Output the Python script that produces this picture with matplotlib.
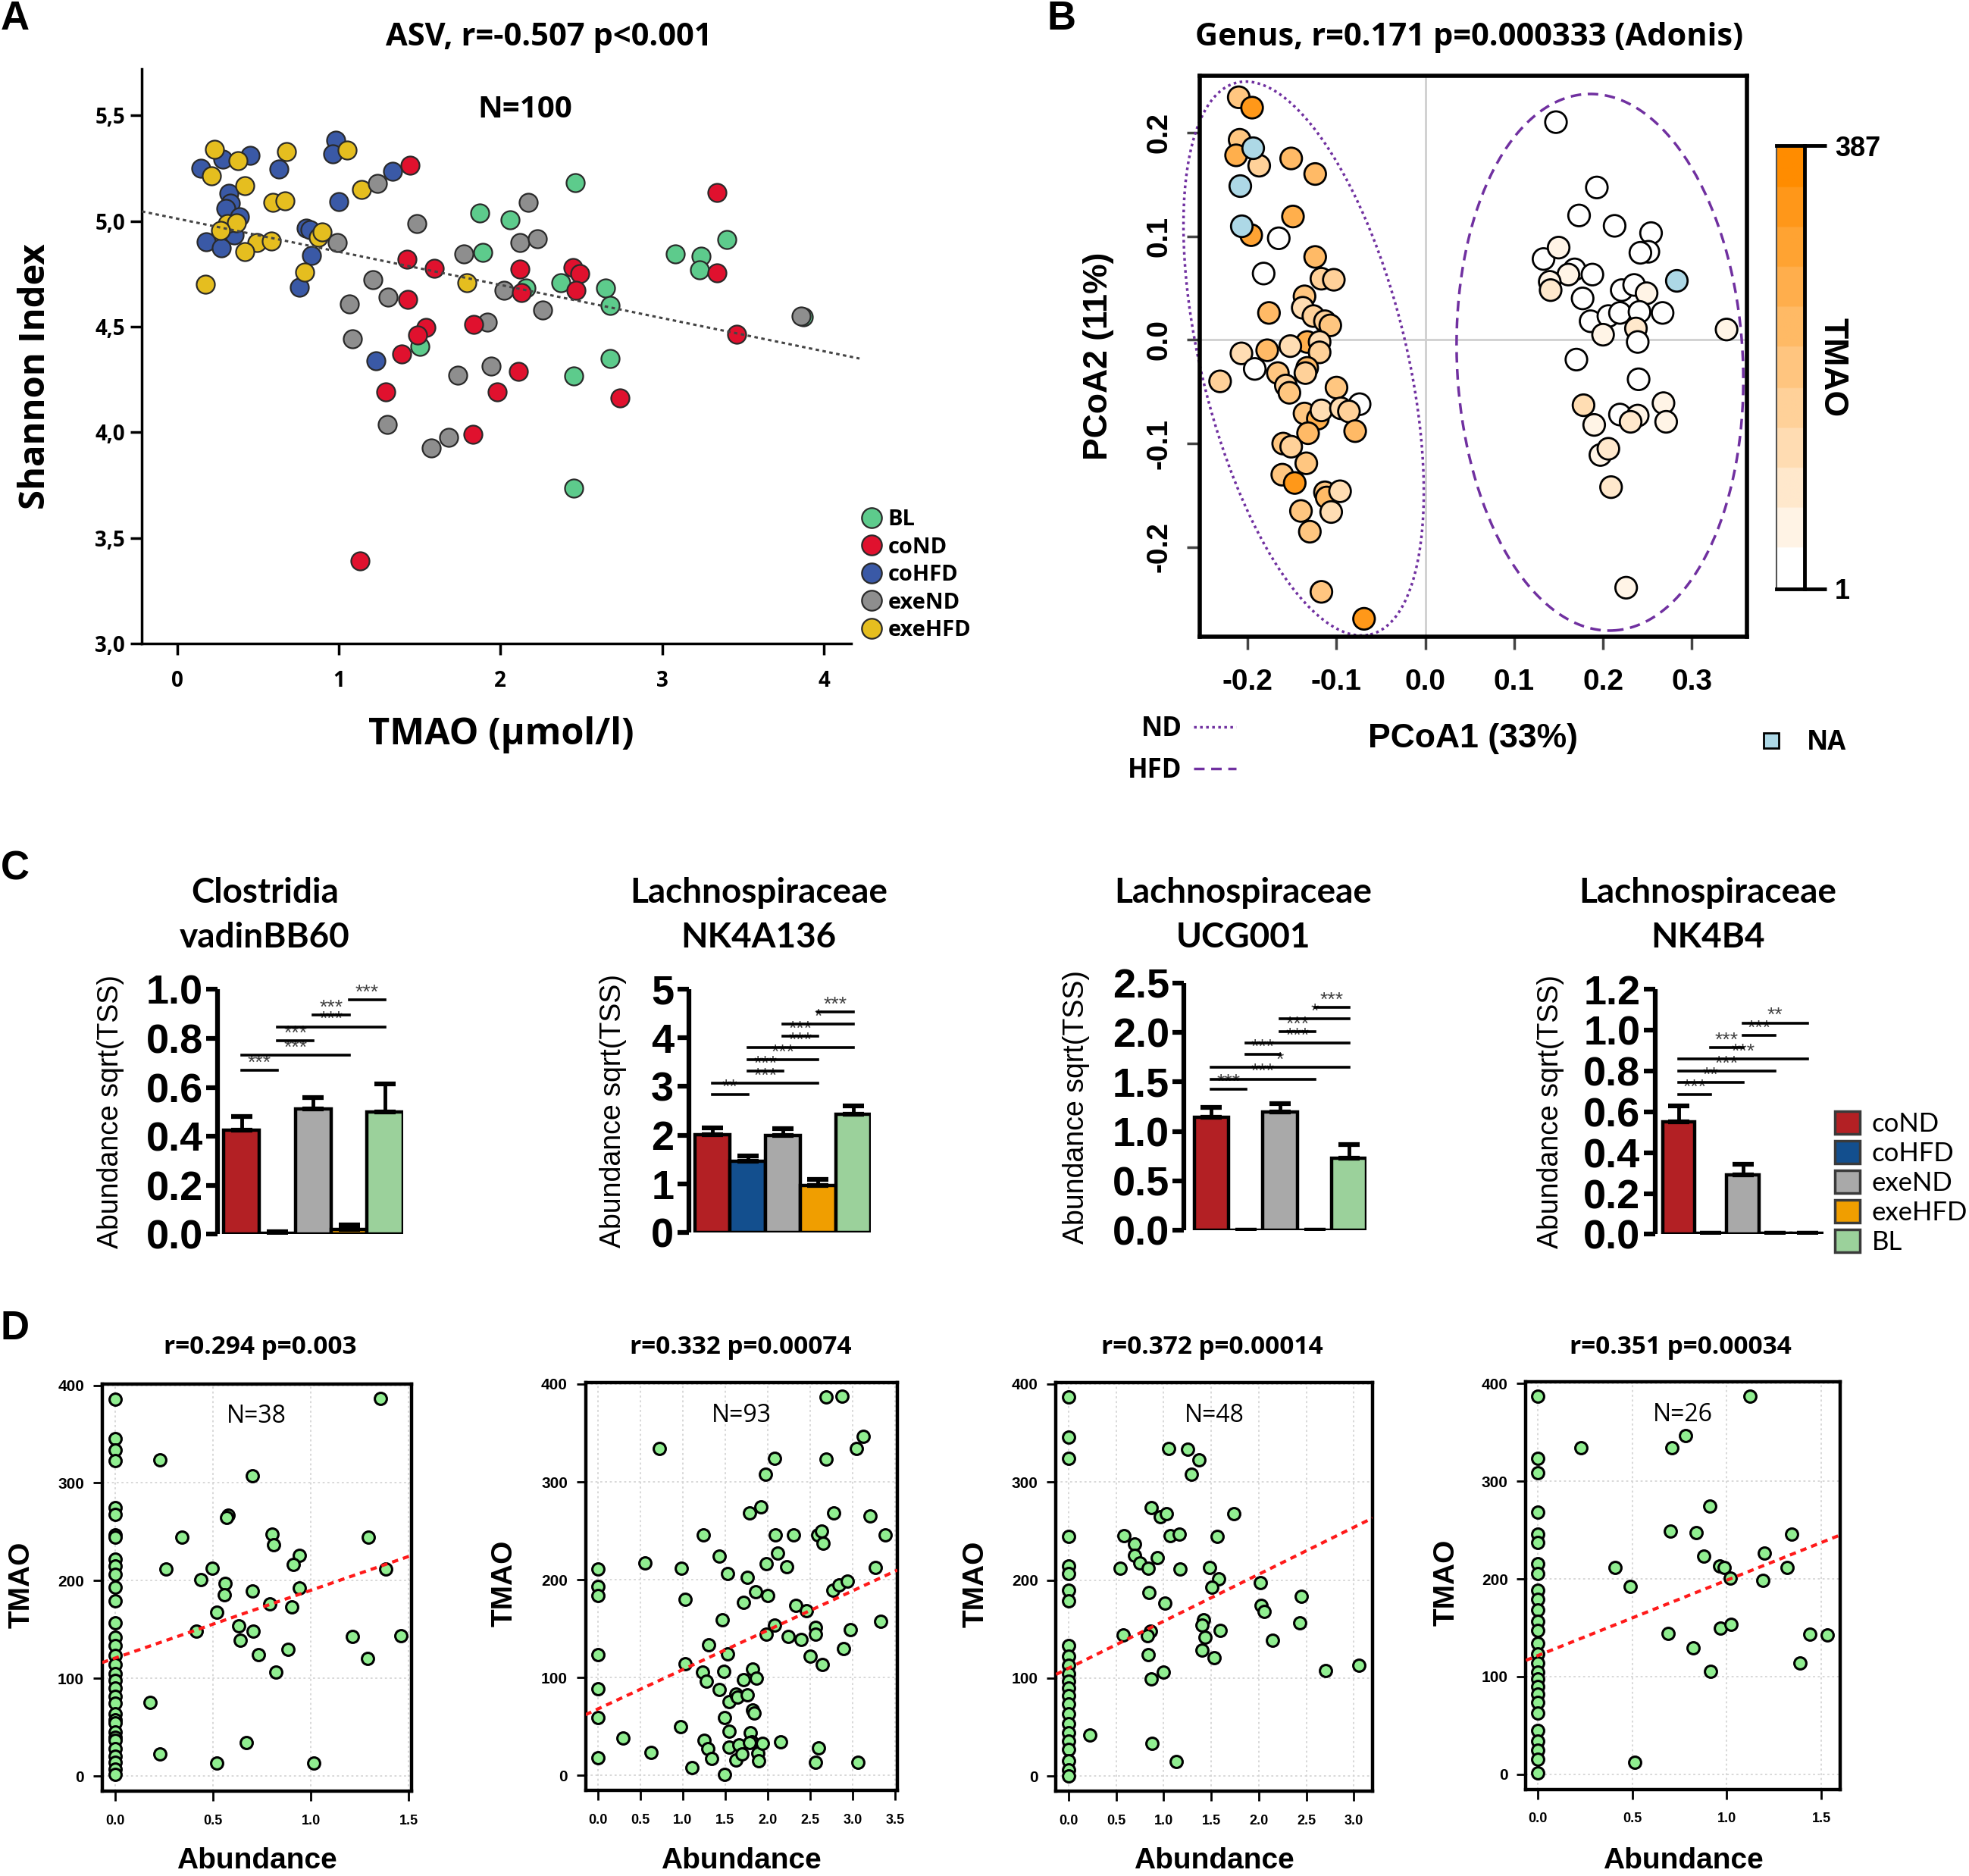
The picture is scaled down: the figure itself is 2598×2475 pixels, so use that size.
import numpy as np
import matplotlib
matplotlib.use("Agg")
import matplotlib.pyplot as plt
from matplotlib.colors import LinearSegmentedColormap
from matplotlib.lines import Line2D
from matplotlib.patches import Patch

plt.rcParams['axes.unicode_minus'] = False

# ---------------- Panel A: Shannon index vs TMAO ----------------
bl_tmao = [2.462, 1.872, 2.061, 1.893, 2.156, 2.373, 1.504, 2.453, 2.453, 3.079,
           3.240, 3.229, 3.401, 2.651, 2.680, 2.680, 3.873]
bl_shannon = [5.181, 5.037, 5.005, 4.853, 4.682, 4.707, 4.408, 4.268, 3.735, 4.844,
              4.835, 4.770, 4.912, 4.683, 4.600, 4.349, 4.547]
cond_tmao = [1.441, 1.423, 1.590, 1.427, 1.540, 1.490, 1.391, 1.293, 1.133, 1.831, 2.122,
             2.130, 2.450, 2.490, 2.469, 1.835, 2.110, 1.982, 3.340, 3.340, 2.739, 3.459]
cond_shannon = [5.265, 4.820, 4.775, 4.630, 4.498, 4.461, 4.370, 4.190, 3.390, 3.990, 4.772,
                4.663, 4.780, 4.751, 4.671, 4.510, 4.290, 4.190, 5.137, 4.756, 4.162, 4.463]
cohfd_tmao = [0.147, 0.283, 0.453, 0.630, 0.322, 0.331, 0.304, 0.385, 0.354, 0.179,
              0.272, 0.981, 0.961, 1.334, 0.999, 0.797, 0.824, 0.833, 0.755, 1.230]
cohfd_shannon = [5.249, 5.293, 5.311, 5.245, 5.133, 5.084, 5.059, 5.021, 4.935, 4.902,
                 4.873, 5.384, 5.318, 5.236, 5.092, 4.965, 4.960, 4.837, 4.688, 4.338]
exend_tmao = [1.239, 1.481, 0.990, 1.212, 1.303, 1.065, 1.083, 1.302, 1.572, 1.680,
              1.772, 2.170, 2.122, 2.230, 2.021, 2.262, 1.921, 1.734, 1.942, 3.860]
exend_shannon = [5.180, 4.988, 4.899, 4.724, 4.639, 4.609, 4.441, 4.037, 3.925, 3.976,
                 4.845, 5.087, 4.899, 4.917, 4.671, 4.578, 4.523, 4.269, 4.312, 4.551]
exehfd_tmao = [0.233, 0.379, 0.215, 0.421, 0.675, 0.591, 0.666, 1.051, 1.142, 0.313,
               0.367, 0.268, 0.492, 0.582, 0.421, 0.791, 0.872, 0.895, 0.175, 1.791]
exehfd_shannon = [5.339, 5.285, 5.213, 5.166, 5.328, 5.087, 5.097, 5.336, 5.150, 4.988,
                  4.993, 4.955, 4.899, 4.906, 4.856, 4.759, 4.922, 4.949, 4.700, 4.710]
asv_fit = (5.012, -0.157)  # intercept, slope of dotted trend line

group_colors = {'BL': '#5DCB8C', 'coND': '#E0112E', 'coHFD': '#3A59A6',
                'exeND': '#8E8E8E', 'exeHFD': '#E5BE1F'}

# ---------------- Panel B: PCoA ----------------
pcoa1 = [-0.210, -0.195, -0.209, -0.194, -0.213, -0.187, -0.151, -0.124, -0.209, -0.149,
         -0.207, -0.196, -0.165, -0.124, -0.182, -0.117, -0.103, -0.136, -0.138, -0.176,
         -0.126, -0.113, -0.107, -0.133, -0.119, -0.119, -0.207, -0.178, -0.152, -0.192,
         -0.133, -0.135, -0.166, -0.231, -0.157, -0.153, -0.100, -0.074, -0.136, -0.121,
         -0.117, -0.095, -0.086, -0.132, -0.079, -0.160, -0.151, -0.134, -0.161, -0.147,
         -0.113, -0.111, -0.096, -0.106, -0.140, -0.130, -0.117, -0.069,
         0.147, 0.193, 0.173, 0.213, 0.254, 0.251, 0.242, 0.133, 0.150, 0.168,
         0.161, 0.188, 0.140, 0.141, 0.283, 0.177, 0.221, 0.235, 0.249, 0.186,
         0.206, 0.219, 0.241, 0.267, 0.200, 0.237, 0.239, 0.339, 0.170, 0.240,
         0.178, 0.190, 0.219, 0.239, 0.231, 0.268, 0.271, 0.197, 0.206, 0.209, 0.226]
pcoa2 = [0.234, 0.224, 0.193, 0.185, 0.178, 0.168, 0.175, 0.160, 0.149, 0.119,
         0.110, 0.101, 0.098, 0.080, 0.064, 0.059, 0.058, 0.042, 0.031, 0.026,
         0.023, 0.018, 0.014, -0.002, -0.002, -0.012, -0.013, -0.010, -0.006, -0.028,
         -0.027, -0.032, -0.032, -0.040, -0.044, -0.051, -0.046, -0.062, -0.071, -0.076,
         -0.068, -0.066, -0.069, -0.090, -0.088, -0.100, -0.103, -0.119, -0.130, -0.138,
         -0.147, -0.152, -0.146, -0.166, -0.165, -0.185, -0.243, -0.269,
         0.210, 0.147, 0.120, 0.110, 0.103, 0.085, 0.084, 0.078, 0.089, 0.068,
         0.063, 0.063, 0.056, 0.048, 0.057, 0.040, 0.048, 0.053, 0.045, 0.018,
         0.023, 0.026, 0.027, 0.026, 0.005, 0.011, -0.002, 0.010, -0.019, -0.038,
         -0.063, -0.082, -0.072, -0.073, -0.079, -0.061, -0.079, -0.111, -0.105, -0.142, -0.239]
pcoa_tmao = [200, 330, 190, np.nan, 260, 160, 240, 220, np.nan, 280,
             np.nan, 300, 15, 230, 5, 170, 160, 210, 130, 230,
             170, 160, 180, 270, 140, 150, 120, 240, 130, 10,
             230, 150, 180, 170, 170, 180, 200, 20, 190, 250,
             130, 120, 170, 220, 230, 180, 150, 190, 200, 330,
             210, 220, 110, 120, 210, 200, 210, 320,
             10, 20, 15, 20, 15, 25, 20, 5, 70, 30,
             60, 25, 40, 90, np.nan, 15, 30, 25, 40, 20,
             35, 15, 30, 20, 60, 80, 25, 50, 8, 5,
             110, 45, 30, 40, 80, 45, 70, 60, 85, 80, 60]
# ellipses: centre, semi-axis vectors (PCoA units)
nd_ellipse = ((-0.137, -0.018), (0.0752, -0.2661), (0.1124, 0.0233))
hfd_ellipse = ((0.1965, -0.0216), (0.0148, -0.2587), (0.1607, 0.0067))

# ---------------- Panel C: bar charts ----------------
c_groups = ['coND', 'coHFD', 'exeND', 'exeHFD', 'BL']
c_colors = ['#B32024', '#134F8E', '#A9A9A9', '#F09E00', '#9BD19B']
c_titles = ['Clostridia\nvadinBB60', 'Lachnospiraceae\nNK4A136',
            'Lachnospiraceae\nUCG001', 'Lachnospiraceae\nNK4B4']
vadin_mean = [0.424, 0.005, 0.513, 0.02, 0.499]
vadin_sem = [0.058, 0.006, 0.047, 0.02, 0.116]
nk4a136_mean = [2.02, 1.47, 2.00, 0.97, 2.43]
nk4a136_sem = [0.13, 0.11, 0.14, 0.13, 0.17]
ucg001_mean = [1.143, 0.004, 1.194, 0.006, 0.729]
ucg001_sem = [0.103, 0.0, 0.091, 0.0, 0.137]
nk4b4_mean = [0.553, 0.004, 0.293, 0.004, 0.004]
nk4b4_sem = [0.075, 0.0, 0.052, 0.0, 0.0]
vadin_sig = [(0, 1, 0.670, '***'), (0, 3, 0.733, '***'), (1, 2, 0.791, '***'),
             (1, 4, 0.848, '***'), (2, 3, 0.895, '***'), (3, 4, 0.958, '***')]
nk4a136_sig = [(0, 1, 2.84, '**'), (0, 3, 3.07, '***'), (1, 2, 3.32, '***'),
               (1, 3, 3.55, '***'), (1, 4, 3.80, '***'), (2, 3, 4.03, '***'),
               (2, 4, 4.28, '*'), (3, 4, 4.53, '***')]
ucg001_sig = [(0, 1, 1.427, '***'), (0, 3, 1.530, '***'), (0, 4, 1.652, '*'),
              (1, 2, 1.776, '***'), (1, 4, 1.892, '***'), (2, 3, 2.009, '***'),
              (2, 4, 2.138, '*'), (3, 4, 2.254, '***')]
nk4b4_sig = [(0, 1, 0.685, '***'), (0, 2, 0.745, '**'), (0, 3, 0.800, '***'),
             (0, 4, 0.861, '***'), (1, 2, 0.917, '***'), (2, 3, 0.976, '***'),
             (2, 4, 1.036, '**')]
c_yticks = [[0.0, 0.2, 0.4, 0.6, 0.8, 1.0], [0, 1, 2, 3, 4, 5],
            [0.0, 0.5, 1.0, 1.5, 2.0, 2.5], [0.0, 0.2, 0.4, 0.6, 0.8, 1.0, 1.2]]
c_ylabels_fmt = ['{:.1f}', '{:.0f}', '{:.1f}', '{:.1f}']

# ---------------- Panel D: TMAO vs abundance ----------------
d1_abund = [0]*34 + [0.229, 0.703, 1.355, 0.578, 0.570, 0.340, 0.803, 0.810, 1.292, 0.261,
                     0.498, 0.439, 0.562, 0.558, 0.942, 0.910, 1.384, 0.942, 0.700, 0.791,
                     0.902, 0.521, 0.632, 0.415, 0.705, 0.641, 0.731, 0.882, 1.213, 1.458,
                     1.289, 0.823, 0.179, 0.229, 0.521, 0.671, 1.016]
d1_tmao = [385.5, 345.6, 333.6, 322.8, 274.5, 267.6, 246.6, 244.8, 222.3, 215.0,
           206.7, 193.3, 179.5, 156.7, 142.5, 133.5, 123.3, 114.2, 105.2, 97.9,
           89.9, 81.6, 74.3, 63.5, 58.0, 54.4, 45.3, 40.0, 36.3, 27.9, 20.0, 14.5, 7.0, 1.8,
           323.5, 307.5, 386.2, 267.3, 264.7, 244.8, 247.3, 236.4, 244.8, 212.2,
           212.9, 201.3, 197.6, 185.7, 225.9, 216.9, 212.2, 192.2, 189.3, 176.6,
           173.0, 167.5, 154.1, 148.0, 148.7, 138.9, 124.0, 129.5, 143.2, 144.0,
           120.8, 106.3, 75.1, 22.8, 13.4, 34.5, 13.4]
d2_abund = [0]*7 + [0.292, 0.554, 0.627, 0.722, 0.984, 1.032, 1.032, 0.977, 1.112, 1.240,
                    1.232, 1.276, 1.305, 1.250, 1.294, 1.342, 1.429, 1.429, 1.466, 1.531,
                    1.524, 1.484, 1.542, 1.495, 1.549, 1.549, 1.495, 1.630, 1.641, 1.659,
                    1.630, 1.695, 1.713, 1.761, 1.713, 1.761, 1.787, 1.823, 1.866, 1.859,
                    1.823, 1.841, 1.794, 1.816, 1.787, 1.888, 1.896, 1.939, 1.925, 1.976,
                    1.980, 1.980, 2.005, 2.078, 2.089, 2.115, 2.085, 2.151, 2.224, 2.242,
                    2.304, 2.333, 2.395, 2.461, 2.505, 2.563, 2.563, 2.588, 2.636, 2.654,
                    2.643, 2.599, 2.563, 2.690, 2.880, 2.690, 2.782, 2.771, 2.844, 2.935,
                    2.898, 2.971, 3.062, 3.044, 3.124, 3.208, 3.274, 3.336, 3.383]
d2_tmao = [211.2, 193.5, 184.0, 123.4, 88.9, 59.2, 18.1,
           38.1, 217.1, 23.6, 333.9, 211.6, 179.7, 114.3, 49.7, 8.3, 246.1,
           105.3, 96.2, 133.2, 36.3, 27.2, 17.4, 224.0, 87.8, 159.0, 206.2,
           124.5, 106.4, 75.5, 58.8, 45.4, 29.0, 1.1, 83.5, 79.9, 31.6,
           15.6, 21.8, 177.1, 202.5, 98.0, 82.4, 268.6, 108.9, 99.1, 187.7,
           67.2, 63.5, 43.6, 34.5, 33.4, 22.9, 15.2, 32.7, 274.8, 307.8,
           216.0, 144.1, 184.0, 323.8, 245.7, 226.9, 153.5, 34.5, 213.4, 142.3,
           245.7, 173.5, 138.7, 168.1, 121.6, 151.4, 144.1, 246.1, 249.7, 237.0,
           113.6, 27.9, 13.4, 386.6, 387.7, 323.0, 268.6, 189.5, 194.9, 198.5,
           129.6, 148.8, 13.4, 333.9, 346.6, 265.0, 212.3, 157.2, 245.7]
d3_abund = [0]*24 + [0.227, 0.546, 0.585, 0.578, 0.692, 0.692, 0.751, 0.838, 0.871, 0.848,
                     0.861, 0.829, 0.838, 0.871, 0.881, 0.936, 0.968, 1.027, 1.050, 1.066,
                     1.011, 1.001, 1.173, 1.163, 1.131, 1.254, 1.293, 1.375, 1.563, 1.482,
                     1.579, 1.505, 1.417, 1.407, 1.433, 1.407, 1.531, 1.596, 1.739, 2.015,
                     2.025, 2.057, 2.145, 2.447, 2.431, 2.698, 3.055]
d3_tmao = [386.6, 345.7, 324.0, 244.7, 214.7, 206.4, 189.3, 178.5, 133.2, 122.4,
           113.3, 104.3, 97.0, 89.8, 81.8, 73.5, 63.7, 53.6, 44.5, 35.5, 27.5, 15.6, 6.5, 0.4,
           42.0, 212.1, 245.4, 144.1, 236.4, 225.5, 217.2, 211.8, 273.7, 187.5,
           147.7, 143.0, 124.2, 98.8, 33.7, 222.6, 264.3, 267.9, 334.1, 245.4,
           176.7, 106.1, 211.0, 247.2, 14.8, 333.4, 307.7, 322.5, 244.7, 212.9,
           201.3, 192.9, 159.3, 154.2, 141.5, 128.5, 120.5, 148.8, 267.9, 197.6,
           173.8, 167.6, 138.6, 183.2, 156.7, 107.9, 113.3]
d4_abund = [0]*27 + [0.229, 0.407, 0.491, 0.513, 0.702, 0.709, 0.782, 0.688, 0.821, 0.839,
                     0.880, 0.911, 0.916, 0.961, 0.986, 1.018, 0.968, 1.021, 1.121, 1.200,
                     1.191, 1.321, 1.343, 1.389, 1.441, 1.530]
d4_tmao = [386.5, 323.6, 308.4, 268.4, 245.5, 237.5, 215.6, 205.5, 188.4, 179.3,
           168.4, 156.7, 147.3, 133.8, 122.9, 113.8, 104.7, 97.5, 90.2, 81.8,
           73.8, 62.9, 44.7, 33.8, 24.7, 15.6, 1.8,
           333.8, 212.0, 192.0, 12.7, 249.1, 333.8, 346.5, 144.0, 129.1, 247.3,
           223.6, 274.5, 105.8, 213.1, 212.0, 201.1, 149.5, 153.8, 386.5, 226.5,
           198.2, 211.3, 245.5, 113.8, 143.6, 142.9]
d_titles = ['r=0.294 p=0.003', 'r=0.332 p=0.00074', 'r=0.372 p=0.00014', 'r=0.351 p=0.00034']
d_n = ['N=38', 'N=93', 'N=48', 'N=26']
d_fits = [(120.8, 69.4), (68.0, 40.2), (110.0, 47.96), (121.5, 77.1)]
d_xlims = [(-0.066, 1.513), (-0.146, 3.529), (-0.130, 3.195), (-0.0625, 1.598)]
d_xticks = [[0.0, 0.5, 1.0, 1.5], [0.0, 0.5, 1.0, 1.5, 2.0, 2.5, 3.0, 3.5],
            [0.0, 0.5, 1.0, 1.5, 2.0, 2.5, 3.0], [0.0, 0.5, 1.0, 1.5]]

# ---------------- layout helpers (reference grid 1568 x 1494) ----------------
W, H = 1568.0, 1494.0
SEG = ['Open Sans', 'DejaVu Sans']
ARI = ['Liberation Sans', 'DejaVu Sans']
CAL = ['Lato', 'DejaVu Sans']


def add_ax(fig, x0, y0, x1, y1):
    return fig.add_axes([x0 / W, 1 - y1 / H, (x1 - x0) / W, (y1 - y0) / H])


def ftext(fig, x, y, s, **kw):
    return fig.text(x / W, 1 - y / H, s, **kw)


def tick_font(ax, family, size, weight='bold'):
    for lab in ax.get_xticklabels() + ax.get_yticklabels():
        lab.set_fontfamily(family)
        lab.set_fontsize(size)
        lab.set_fontweight(weight)


fig = plt.figure(figsize=(25.98, 24.75), dpi=100)

# panel letters
for letter, (x, y) in zip('ABCD', [(12, 15), (845, 15), (12, 692), (12, 1058)]):
    ftext(fig, x, y, letter, family=ARI, weight='bold', size=38, ha='center', va='center')

# ================= A =================
axA = add_ax(fig, 113, 55, 678, 512.5)
edge = '#2A2A2A'
axA.scatter(bl_tmao, bl_shannon, s=300, color=group_colors['BL'], edgecolors=edge, linewidths=1.6, zorder=3)
axA.scatter(cohfd_tmao, cohfd_shannon, s=300, color=group_colors['coHFD'], edgecolors=edge, linewidths=1.6, zorder=3)
axA.scatter(exehfd_tmao, exehfd_shannon, s=300, color=group_colors['exeHFD'], edgecolors=edge, linewidths=1.6, zorder=3)
axA.scatter(exend_tmao, exend_shannon, s=300, color=group_colors['exeND'], edgecolors=edge, linewidths=1.6, zorder=3)
axA.scatter(cond_tmao, cond_shannon, s=300, color=group_colors['coND'], edgecolors=edge, linewidths=1.6, zorder=3)
xs = np.array([-0.217, 4.22])
axA.plot(xs, asv_fit[0] + asv_fit[1] * xs, ls=(0, (1.5, 1.5)), color='#444444', lw=2.2, zorder=4, clip_on=False)
axA.set_xlim(-0.217, 4.17)
axA.set_ylim(3.0, 5.72)
axA.set_xticks([0, 1, 2, 3, 4])
axA.set_yticks([3.0, 3.5, 4.0, 4.5, 5.0, 5.5], labels=['3,0', '3,5', '4,0', '4,5', '5,0', '5,5'])
for s in ['top', 'right']:
    axA.spines[s].set_visible(False)
for s in ['left', 'bottom']:
    axA.spines[s].set_linewidth(2.5)
axA.tick_params(axis='both', direction='out', length=11, width=2.5)
axA.tick_params(axis='x', pad=14)
axA.tick_params(axis='y', pad=5)
tick_font(axA, SEG, 20)
axA.set_ylabel('Shannon Index', family=SEG, weight='bold', size=34, va='center')
axA.yaxis.set_label_coords((28 - 113) / 565, 0.465)
axA.set_xlabel('TMAO (µmol/l)', family=SEG, weight='bold', size=35, va='center')
axA.xaxis.set_label_coords(0.506, (512.5 - 585) / 457.5)
axA.text(2.15, 5.53, 'N=100', family=SEG, weight='bold', size=29, ha='center', va='center')
ftext(fig, 437, 30, 'ASV, r=-0.507 p<0.001', family=SEG, weight='bold', size=30, ha='center', va='center')
handles = [Line2D([], [], ls='none', marker='o', ms=19, mfc=group_colors[g], mec=edge, mew=1.6)
           for g in ['BL', 'coND', 'coHFD', 'exeND', 'exeHFD']]
axA.legend(handles, ['BL', 'coND', 'coHFD', 'exeND', 'exeHFD'], loc='upper left',
           bbox_to_anchor=(685 / W, 1 - 405 / H), bbox_transform=fig.transFigure,
           frameon=False, handlelength=1.0, handletextpad=0.25, labelspacing=0.26,
           borderpad=0, borderaxespad=0, prop=dict(family=SEG, weight='bold', size=21))

# ================= B =================
cmap = LinearSegmentedColormap.from_list('tmao', ['#FFFFFF', '#FF8C00'], N=11)
axB = add_ax(fig, 955.7, 60.2, 1391, 507)
axB.axhline(0, color='#CFCFCF', lw=2, zorder=0)
axB.axvline(0, color='#CFCFCF', lw=2, zorder=0)
px = np.array(pcoa1)
py = np.array(pcoa2)
pt = np.array(pcoa_tmao, dtype=float)
na = np.isnan(pt)
axB.scatter(px[~na], py[~na], c=pt[~na], cmap=cmap, vmin=1, vmax=387, s=420,
            edgecolors='black', linewidths=2, zorder=3)
axB.scatter(px[na], py[na], color='#ADD8E6', s=420, edgecolors='black', linewidths=2, zorder=3)
t = np.linspace(0, 2 * np.pi, 300)
for (c, u, v), ls in [(nd_ellipse, (0, (1, 1.3))), (hfd_ellipse, (0, (4, 2.5)))]:
    axB.plot(c[0] + u[0] * np.cos(t) + v[0] * np.sin(t), c[1] + u[1] * np.cos(t) + v[1] * np.sin(t),
             color='#7030A0', lw=2.5, ls=ls, zorder=2, clip_on=False)
axB.set_xlim(-0.2535, 0.3617)
axB.set_ylim(-0.2862, 0.2549)
bx = [-0.2, -0.1, 0.0, 0.1, 0.2, 0.3]
by = [-0.2, -0.1, 0.0, 0.1, 0.2]
axB.set_xticks(bx, labels=['{:.1f}'.format(v) for v in bx])
axB.set_yticks(by, labels=['{:.1f}'.format(v) for v in by])
for s in axB.spines.values():
    s.set_linewidth(4)
axB.tick_params(axis='both', direction='out', length=12, width=2.5, color='#444444')
axB.tick_params(axis='x', pad=18)
axB.tick_params(axis='y', pad=14, labelrotation=90)
tick_font(axB, ARI, 28)
for lab in axB.get_yticklabels():
    lab.set_va('center')
axB.set_ylabel('PCoA2 (11%)', family=ARI, weight='bold', size=32, va='center')
axB.yaxis.set_label_coords((875 - 955.7) / 435.3, 0.5)
axB.set_xlabel('PCoA1 (33%)', family=ARI, weight='bold', size=32, va='center')
axB.xaxis.set_label_coords(0.499, (507 - 588) / 446.8)
ftext(fig, 1170, 30, 'Genus, r=0.171 p=0.000333 (Adonis)', family=SEG, weight='bold', size=30,
      ha='center', va='center')
fig.legend([Line2D([], [], color='#7030A0', lw=2.5, ls=(0, (1, 1.3))),
            Line2D([], [], color='#7030A0', lw=2.5, ls=(0, (4, 2.5)))], ['ND', 'HFD'],
           markerfirst=False, loc='upper left', bbox_to_anchor=(898 / W, 1 - 570 / H),
           frameon=False, handlelength=1.6, handletextpad=0.45, labelspacing=0.55,
           borderpad=0, borderaxespad=0, prop=dict(family=SEG, weight='bold', size=25))
fig.legend([Line2D([], [], ls='none', marker='s', ms=15, mfc='#ADD8E6', mec='black', mew=2)], ['NA'],
           loc='upper left', bbox_to_anchor=(1400 / W, 1 - 581 / H), frameon=False,
           handlelength=1.0, handletextpad=0.85, borderpad=0, borderaxespad=0,
           prop=dict(family=SEG, weight='bold', size=25))
cax = add_ax(fig, 1415, 116, 1437, 469)
cax.imshow(np.linspace(1, 387, 256)[:, None], aspect='auto', cmap=cmap, origin='lower', extent=[0, 1, 1, 387])
cax.set_xlim(0, 1)
cax.set_ylim(1, 387)
cax.set_xticks([])
cax.yaxis.tick_right()
cax.set_yticks([1, 387])
cax.spines['left'].set_linewidth(1.5)
cax.spines['left'].set_color('#555555')
for s in ['right', 'top', 'bottom']:
    cax.spines[s].set_linewidth(3.5)
cax.tick_params(axis='y', direction='out', length=21, width=3.5, pad=8)
tick_font(cax, ARI, 26)
cax.set_ylabel('TMAO', family=ARI, weight='bold', size=32, rotation=-90, va='center')
cax.yaxis.set_label_position('right')
cax.yaxis.set_label_coords((1472 - 1415) / 22, 0.5)

# ================= C =================
c_means = [vadin_mean, nk4a136_mean, ucg001_mean, nk4b4_mean]
c_sems = [vadin_sem, nk4a136_sem, ucg001_sem, nk4b4_sem]
c_sigs = [vadin_sig, nk4a136_sig, ucg001_sig, nk4b4_sig]
c_rects = [(173.5, 788, 321, 983), (548.4, 787.6, 693.4, 981.8),
           (943, 782.8, 1088, 980), (1318, 788, 1452, 983)]
c_xleft = [-0.657, -0.68, -0.79, -0.73]
c_title_x = [211, 604, 990, 1360]
c_ylabel_x = [88, 488, 857, 1235]
for k in range(4):
    x0, y0, x1, y1 = c_rects[k]
    ax = add_ax(fig, x0, y0, x1, y1)
    pos = np.arange(5)
    ax.bar(pos, c_means[k], width=1.0, color=c_colors, edgecolor='black', linewidth=3.2, zorder=2)
    ax.errorbar(pos, c_means[k], yerr=[np.zeros(5), c_sems[k]], fmt='none', ecolor='black',
                elinewidth=3.5, capsize=10, capthick=4.5, zorder=3)
    top = c_yticks[k][-1]
    for i, j, yb, stars in c_sigs[k]:
        ax.plot([i, j], [yb, yb], color='black', lw=2.6, zorder=4, clip_on=False)
        ax.annotate(stars, ((i + j) / 2, yb), xytext=(0, -2), textcoords='offset points',
                    ha='center', va='bottom', family=ARI, size=19, color='#404040', zorder=4)
    ax.set_xlim(c_xleft[k], 4.5)
    ax.set_ylim(0, top)
    ax.set_xticks([])
    ax.set_yticks(c_yticks[k], labels=[c_ylabels_fmt[k].format(v) for v in c_yticks[k]])
    for s in ['top', 'right', 'bottom']:
        ax.spines[s].set_visible(False)
    ax.spines['left'].set_linewidth(4.5)
    ax.spines['left'].set_capstyle('butt')
    ax.tick_params(axis='y', direction='out', length=11, width=4.5, pad=3)
    tick_font(ax, ARI, 39)
    ax.set_ylabel('Abundance sqrt(TSS)', family=ARI, size=27, va='center')
    ax.yaxis.set_label_coords((c_ylabel_x[k] - x0) / (x1 - x0), 0.5)
    ftext(fig, c_title_x[k], 729, c_titles[k], family=CAL, weight='bold', size=33,
          ha='center', va='center', linespacing=1.5)
fig.legend([Patch(facecolor=c, edgecolor='#3A3A3A', linewidth=2.5) for c in c_colors], c_groups,
           loc='upper left', bbox_to_anchor=(1461 / W, 1 - 885 / H), frameon=False,
           handlelength=0.96, handleheight=0.96, handletextpad=0.45, labelspacing=0.17,
           borderpad=0, borderaxespad=0, prop=dict(family=CAL, size=25))

# ================= D =================
d_abunds = [d1_abund, d2_abund, d3_abund, d4_abund]
d_tmaos = [d1_tmao, d2_tmao, d3_tmao, d4_tmao]
d_rects = [(81.3, 1102, 327.6, 1426.4), (466.3, 1101, 714.6, 1425.9),
           (841, 1101, 1093, 1426.4), (1215.2, 1100.5, 1465.1, 1425)]
d_title_x = [207, 590, 965, 1338]
d_ylabel_x = [17, 402, 777, 1152]
for k in range(4):
    x0, y0, x1, y1 = d_rects[k]
    ax = add_ax(fig, x0, y0, x1, y1)
    ax.set_xlim(*d_xlims[k])
    ax.set_ylim(-15.3, 401.5)
    ax.set_xticks(d_xticks[k], labels=['{:.1f}'.format(v) for v in d_xticks[k]])
    ax.set_yticks([0, 100, 200, 300, 400])
    ax.grid(True, color='#D5D5D5', ls=(0, (1.5, 2)), lw=1.3, zorder=0)
    ax.scatter(d_abunds[k], d_tmaos[k], s=130, color='#90EE90', edgecolors='black', linewidths=2.2, zorder=3)
    a, b = d_fits[k]
    xl = np.array(d_xlims[k])
    ax.plot(xl, a + b * xl, color='#FF1A1A', ls=(0, (2, 1.6)), lw=3, zorder=4)
    for s in ax.spines.values():
        s.set_linewidth(3.2)
    ax.tick_params(axis='both', direction='out', length=9, width=2)
    ax.tick_params(axis='x', pad=13)
    ax.tick_params(axis='y', pad=8)
    for lab in ax.get_yticklabels():
        lab.set_fontfamily(ARI)
        lab.set_fontweight('bold')
        lab.set_fontsize(15)
    for lab in ax.get_xticklabels():
        lab.set_fontfamily(ARI)
        lab.set_fontweight('bold')
        lab.set_fontsize(13)
    ax.text(0.5, 0.92, d_n[k], transform=ax.transAxes, family=SEG, size=23, ha='center', va='center')
    ax.set_ylabel('TMAO', family=ARI, weight='bold', size=28, va='center')
    ax.yaxis.set_label_coords((d_ylabel_x[k] - x0) / (x1 - x0), 0.507)
    ax.set_xlabel('Abundance', family=ARI, weight='bold', size=28, va='bottom')
    ax.xaxis.set_label_coords(0.5, (y1 - 1493) / (y1 - y0))
    ftext(fig, d_title_x[k], 1073, d_titles[k], family=SEG, weight='bold', size=24, ha='center', va='center')

fig.savefig('out.png', dpi=100, facecolor='white')
